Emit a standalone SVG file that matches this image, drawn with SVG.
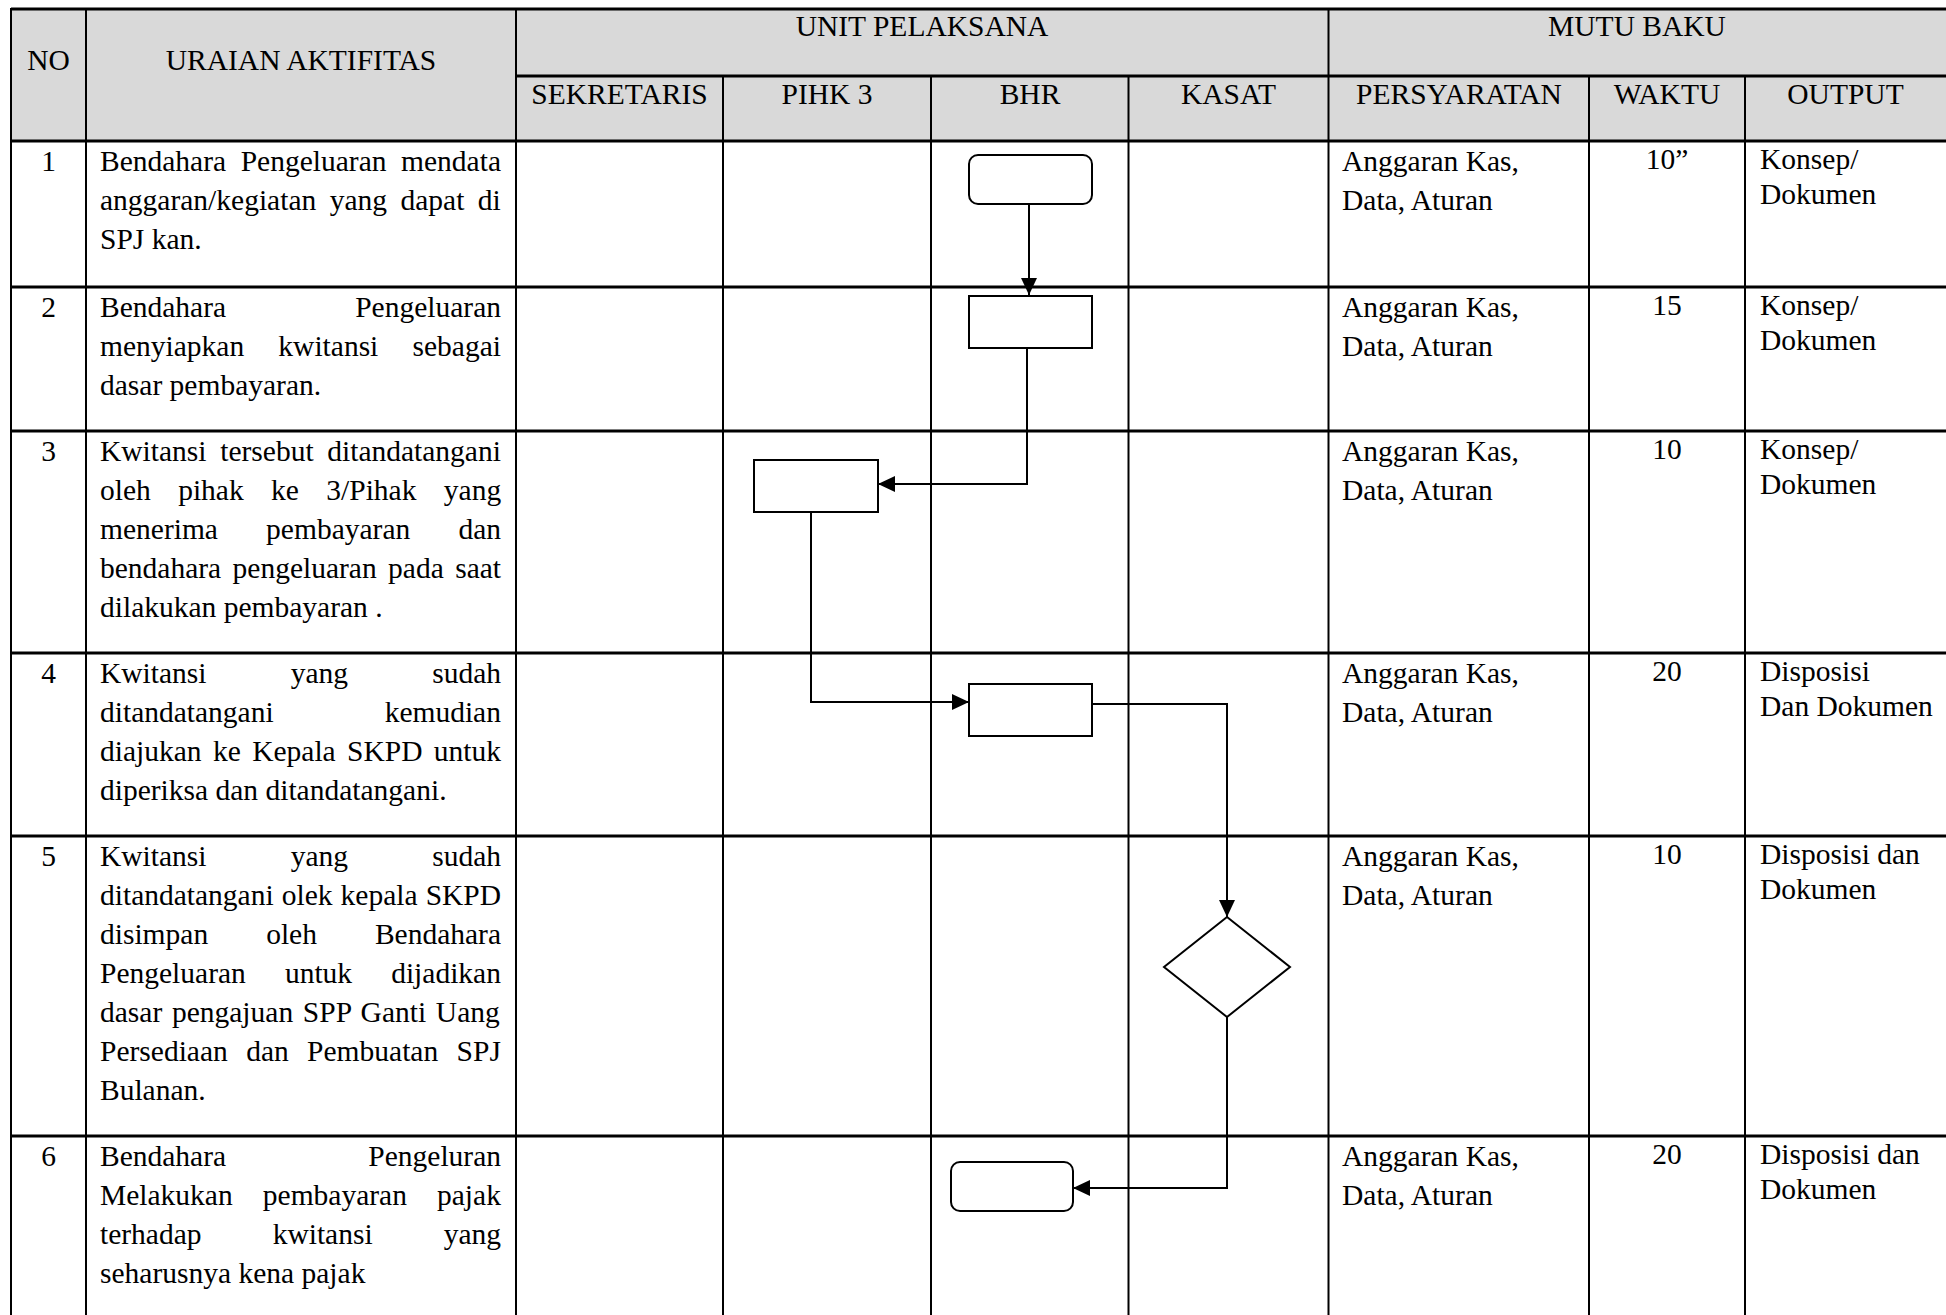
<svg xmlns="http://www.w3.org/2000/svg" width="1946" height="1315" viewBox="0 0 1946 1315">
<style>
text{font-family:"Liberation Serif","Times New Roman",serif;font-size:29.5px;fill:#000}
.c{text-anchor:middle}
.h{stroke:#000;stroke-width:3}
.v{stroke:#000;stroke-width:2}
.shape{fill:#fff;stroke:#000;stroke-width:2}
.conn{fill:none;stroke:#000;stroke-width:2}
</style>
<defs>
<marker id="arr" markerUnits="userSpaceOnUse" markerWidth="17" markerHeight="16" refX="17" refY="8" orient="auto">
<path d="M0,0 L17,8 L0,16 z" fill="#000"/>
</marker>
</defs>
<rect width="1946" height="1315" fill="#fff"/>
<g id="table">
<rect x="11" y="9" width="1935" height="132" fill="#d9d9d9"/>
<line class="h" x1="11" y1="9" x2="1946" y2="9"/>
<line class="h" x1="516" y1="76" x2="1946" y2="76"/>
<line class="h" x1="11" y1="141" x2="1946" y2="141"/>
<line class="h" x1="11" y1="287" x2="1946" y2="287"/>
<line class="h" x1="11" y1="431" x2="1946" y2="431"/>
<line class="h" x1="11" y1="653" x2="1946" y2="653"/>
<line class="h" x1="11" y1="836" x2="1946" y2="836"/>
<line class="h" x1="11" y1="1136" x2="1946" y2="1136"/>
<line class="v" x1="11" y1="8" x2="11" y2="1315"/>
<line class="v" x1="86" y1="8" x2="86" y2="1315"/>
<line class="v" x1="516" y1="8" x2="516" y2="1315"/>
<line class="v" x1="723" y1="76" x2="723" y2="1315"/>
<line class="v" x1="931" y1="76" x2="931" y2="1315"/>
<line class="v" x1="1128.5" y1="76" x2="1128.5" y2="1315"/>
<line class="v" x1="1328.5" y1="8" x2="1328.5" y2="1315"/>
<line class="v" x1="1589" y1="76" x2="1589" y2="1315"/>
<line class="v" x1="1745" y1="76" x2="1745" y2="1315"/>
</g>
<g id="header">
<text class="c" x="48.5" y="70">NO</text>
<text class="c" x="301" y="70">URAIAN AKTIFITAS</text>
<text class="c" x="922" y="36">UNIT PELAKSANA</text>
<text class="c" x="1637" y="36">MUTU BAKU</text>
<text class="c" x="619.5" y="104">SEKRETARIS</text>
<text class="c" x="827" y="104">PIHK 3</text>
<text class="c" x="1030" y="104">BHR</text>
<text class="c" x="1228.5" y="104">KASAT</text>
<text class="c" x="1459" y="104">PERSYARATAN</text>
<text class="c" x="1667" y="104">WAKTU</text>
<text class="c" x="1845.5" y="104">OUTPUT</text>
</g>
<g id="row1">
<text class="c" x="48.5" y="171">1</text>
<text x="100" y="171" word-spacing="7.2">Bendahara Pengeluaran mendata</text>
<text x="100" y="210" word-spacing="6.1">anggaran/kegiatan yang dapat di</text>
<text x="100" y="249">SPJ kan.</text>
<text x="1342" y="171">Anggaran Kas,</text>
<text x="1342" y="210">Data, Aturan</text>
<text class="c" x="1667" y="169">10”</text>
<text x="1760" y="169">Konsep/</text>
<text x="1760" y="204">Dokumen</text>
</g>
<g id="row2">
<text class="c" x="48.5" y="317">2</text>
<text x="100" y="317" word-spacing="121.7">Bendahara Pengeluaran</text>
<text x="100" y="356" word-spacing="26.8">menyiapkan kwitansi sebagai</text>
<text x="100" y="395">dasar pembayaran.</text>
<text x="1342" y="317">Anggaran Kas,</text>
<text x="1342" y="356">Data, Aturan</text>
<text class="c" x="1667" y="315">15</text>
<text x="1760" y="315">Konsep/</text>
<text x="1760" y="350">Dokumen</text>
</g>
<g id="row3">
<text class="c" x="48.5" y="461">3</text>
<text x="100" y="461" word-spacing="6.3">Kwitansi tersebut ditandatangani</text>
<text x="100" y="500" word-spacing="20">oleh pihak ke 3/Pihak yang</text>
<text x="100" y="539" word-spacing="40.8">menerima pembayaran dan</text>
<text x="100" y="578" word-spacing="4">bendahara pengeluaran pada saat</text>
<text x="100" y="617">dilakukan pembayaran .</text>
<text x="1342" y="461">Anggaran Kas,</text>
<text x="1342" y="500">Data, Aturan</text>
<text class="c" x="1667" y="459">10</text>
<text x="1760" y="459">Konsep/</text>
<text x="1760" y="494">Dokumen</text>
</g>
<g id="row4">
<text class="c" x="48.5" y="683">4</text>
<text x="100" y="683" word-spacing="76.8">Kwitansi yang sudah</text>
<text x="100" y="722" word-spacing="103.6">ditandatangani kemudian</text>
<text x="100" y="761" word-spacing="4">diajukan ke Kepala SKPD untuk</text>
<text x="100" y="800">diperiksa dan ditandatangani.</text>
<text x="1342" y="683">Anggaran Kas,</text>
<text x="1342" y="722">Data, Aturan</text>
<text class="c" x="1667" y="681">20</text>
<text x="1760" y="681">Disposisi</text>
<text x="1760" y="716">Dan Dokumen</text>
</g>
<g id="row5">
<text class="c" x="48.5" y="866">5</text>
<text x="100" y="866" word-spacing="76.8">Kwitansi yang sudah</text>
<text x="100" y="905" word-spacing="0.7">ditandatangani olek kepala SKPD</text>
<text x="100" y="944" word-spacing="50.6">disimpan oleh Bendahara</text>
<text x="100" y="983" word-spacing="31.7">Pengeluaran untuk dijadikan</text>
<text x="100" y="1022" word-spacing="2.3">dasar pengajuan SPP Ganti Uang</text>
<text x="100" y="1061" word-spacing="11">Persediaan dan Pembuatan SPJ</text>
<text x="100" y="1100">Bulanan.</text>
<text x="1342" y="866">Anggaran Kas,</text>
<text x="1342" y="905">Data, Aturan</text>
<text class="c" x="1667" y="864">10</text>
<text x="1760" y="864">Disposisi dan</text>
<text x="1760" y="899">Dokumen</text>
</g>
<g id="row6">
<text class="c" x="48.5" y="1166">6</text>
<text x="100" y="1166" word-spacing="134.8">Bendahara Pengeluran</text>
<text x="100" y="1205" word-spacing="22.7">Melakukan pembayaran pajak</text>
<text x="100" y="1244" word-spacing="63.7">terhadap kwitansi yang</text>
<text x="100" y="1283">seharusnya kena pajak</text>
<text x="1342" y="1166">Anggaran Kas,</text>
<text x="1342" y="1205">Data, Aturan</text>
<text class="c" x="1667" y="1164">20</text>
<text x="1760" y="1164">Disposisi dan</text>
<text x="1760" y="1199">Dokumen</text>
</g>
<g id="connectors">
<path class="conn" d="M1029,204 L1029,295" marker-end="url(#arr)"/>
<path class="conn" d="M1027,348 L1027,484 L878,484" marker-end="url(#arr)"/>
<path class="conn" d="M811,512 L811,702 L969,702" marker-end="url(#arr)"/>
<path class="conn" d="M1092,704 L1227,704 L1227,917" marker-end="url(#arr)"/>
<path class="conn" d="M1227,1017 L1227,1188 L1073,1188" marker-end="url(#arr)"/>
</g>
<g id="node1"><rect class="shape" x="969" y="155" width="123" height="49" rx="9"/></g>
<g id="node2"><rect class="shape" x="969" y="296" width="123" height="52"/></g>
<g id="node3"><rect class="shape" x="754" y="460" width="124" height="52"/></g>
<g id="node4"><rect class="shape" x="969" y="684" width="123" height="52"/></g>
<g id="node5"><polygon class="shape" points="1227,917 1290,967 1227,1017 1164,967"/></g>
<g id="node6"><rect class="shape" x="951" y="1162" width="122" height="49" rx="9"/></g>
</svg>
